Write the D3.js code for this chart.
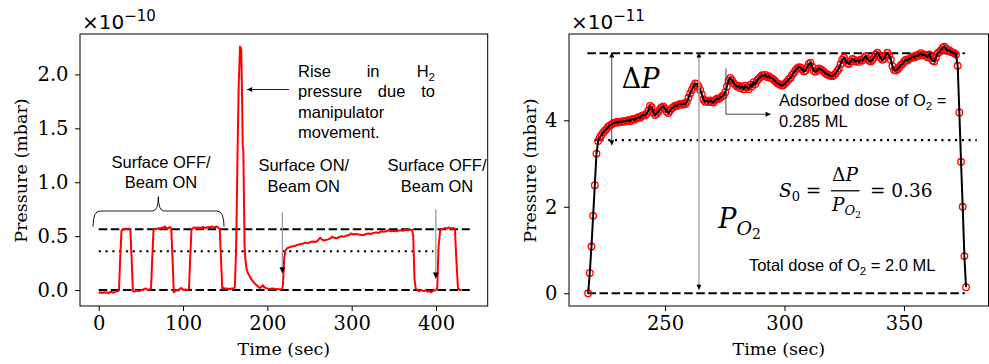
<!DOCTYPE html>
<html><head><meta charset="utf-8">
<script src="https://cdn.jsdelivr.net/npm/d3@7"></script>
<style>body{margin:0;background:#fff}svg{display:block}</style>
</head><body>
<svg id="c" width="989" height="364"></svg>
<script>
// ---------------- DATA ----------------
// Left panel: pressure (x1e-10 mbar) vs time (sec)
const leftTime = [0,2,4,6,8,10,12,14,16,18,20,22,24,25.5,27,28.5,30,32,34,36,37.5,39,40.5,42,44,46,48,50,52,54,56,58,60,62,63.5,65,67,69,71,73,75,77,78.5,80,82,84,86,87.5,89,90.5,92,94,96,97.5,99,101,103,105,107,108.5,110,112,114,116,118,120,122,124,126,128,130,132,134,136,138,140,142,143.5,145,146.5,148,150,152,154,156,158,160,161.5,163,164.5,166,167.6,169,170,170.8,171.5,172,173,174,175.5,177.5,179.5,182,185,188,191,193,194.5,196,198,200,203,206,209,212,215,217.5,218.5,220,221.5,224,227,230,233,236,239,242,245,248,251,254,257,260,262.5,264.5,266.5,269,272,275,277,279,282,285,288,291,294,297,299,302,305,308,311,314,317,320,323,326,329,332,335,338,341,343.5,346,349,352,355,358,361,364,367,369,371.5,373,374.5,376,378,380,382,384,386,388,390,392,394,396,398,400,401.5,403,405,407,409,411,413,415,417,419,421,422.5,424,426,428,430];
const leftPressure = [-0.03,-0.02,-0.03,-0.02,-0.025,-0.02,-0.03,-0.015,-0.02,-0.025,-0.015,-0.01,-0.005,0.3,0.55,0.565,0.56,0.57,0.565,0.57,0.56,0.3,-0.01,-0.015,-0.01,-0.005,-0.01,0.0,0.0,0.01,0.015,0.0,0.005,0.01,0.3,0.56,0.57,0.565,0.575,0.57,0.58,0.575,0.59,0.575,0.57,0.585,0.57,0.3,-0.02,-0.01,0.0,-0.005,0.01,0.02,0.01,0.0,0.005,0.0,0.005,0.3,0.56,0.575,0.58,0.575,0.58,0.575,0.58,0.585,0.575,0.58,0.585,0.58,0.59,0.58,0.585,0.59,0.575,0.57,0.3,0.01,0.02,0.01,0.015,0.01,0.01,0.015,0.01,0.03,0.4,1.2,1.9,2.26,2.23,1.8,1.33,1.3,1.0,0.4,0.28,0.19,0.15,0.12,0.09,0.06,0.04,0.02,0.03,0.045,0.03,0.02,0.015,0.01,0.015,0.01,0.01,0.005,0.01,0.05,0.3,0.37,0.39,0.4,0.405,0.41,0.42,0.425,0.43,0.44,0.435,0.445,0.45,0.445,0.46,0.485,0.47,0.46,0.465,0.47,0.48,0.495,0.485,0.48,0.49,0.5,0.495,0.505,0.51,0.525,0.515,0.52,0.515,0.51,0.51,0.52,0.525,0.52,0.53,0.535,0.53,0.545,0.54,0.545,0.555,0.545,0.55,0.545,0.55,0.555,0.55,0.56,0.555,0.56,0.56,0.5,0.1,0.01,0.0,-0.01,0.0,-0.005,-0.01,0.0,-0.015,-0.01,-0.02,-0.01,-0.005,0.0,0.02,0.4,0.555,0.565,0.57,0.575,0.57,0.58,0.575,0.57,0.575,0.56,0.3,0.02,0.0,0.0];
const leftLevels = [0.563, 0.0];     // dashed reference levels
const leftMidLevel = [0.36];         // dotted level
const leftXTicks = [0,100,200,300,400];
const leftYTicks = [0.0,0.5,1.0,1.5,2.0];

// Right panel: pressure (x1e-11 mbar), sampled every 0.7 s from t = 217.8 s
const rightStart = 217.8, rightStep = 0.7;
const rightPressure = [0.0,0.47,1.08,1.79,2.5,3.23,3.52,3.6,3.66,3.72,
3.76,3.8,3.85,3.88,3.9,3.93,3.94,3.96,3.95,3.97,
3.96,3.98,3.97,3.99,4.0,3.98,4.02,4.03,4.01,4.05,
4.07,4.06,4.1,4.12,4.11,4.15,4.22,4.33,4.3,4.18,
4.12,4.15,4.2,4.26,4.3,4.32,4.27,4.2,4.17,4.22,
4.28,4.3,4.34,4.33,4.36,4.38,4.36,4.39,4.37,4.42,
4.52,4.62,4.7,4.78,4.85,4.84,4.78,4.7,4.6,4.48,
4.43,4.45,4.42,4.46,4.43,4.41,4.47,4.5,4.49,4.52,
4.55,4.58,4.65,4.78,4.92,4.98,4.93,4.86,4.82,4.78,
4.8,4.74,4.78,4.72,4.8,4.76,4.72,4.82,4.78,4.88,
4.84,4.92,4.96,5.0,5.04,5.03,5.05,5.0,5.02,4.98,
4.97,4.94,4.9,4.86,4.84,4.82,4.8,4.82,4.86,4.9,
4.95,4.98,5.05,5.1,5.16,5.2,5.23,5.22,5.18,5.13,
5.15,5.22,5.3,5.33,5.24,5.14,5.12,5.16,5.2,5.18,
5.16,5.12,5.08,5.06,5.04,5.03,5.02,5.04,5.08,5.14,
5.2,5.3,5.4,5.45,5.38,5.32,5.3,5.36,5.42,5.4,
5.36,5.38,5.35,5.4,5.38,5.44,5.48,5.42,5.38,5.36,
5.4,5.46,5.52,5.56,5.5,5.44,5.4,5.42,5.5,5.56,
5.5,5.4,5.25,5.16,5.15,5.18,5.22,5.28,5.3,5.36,
5.4,5.38,5.42,5.44,5.47,5.45,5.5,5.48,5.53,5.55,
5.5,5.52,5.49,5.46,5.52,5.44,5.38,5.36,5.45,5.55,
5.58,5.62,5.68,5.7,5.66,5.6,5.62,5.58,5.57,5.55,
5.52,5.26,4.18,3.04,2.0,0.86,0.14];
const rightLevels = [5.55, 0.0];
const rightMidLevel = [3.54];
const rightXTicks = [250,300,350];
const rightYTicks = [0,2,4];

// ---------------- DRAW ----------------
const svg = d3.select('#c');
const SERIF = "'DejaVu Serif', serif", SANS = "'Liberation Sans', Arial, sans-serif", DSANS = "'DejaVu Sans', sans-serif";
const defs = svg.append('defs');
function marker(id, w, h){
  defs.append('marker').attr('id',id).attr('viewBox','0 0 10 10').attr('refX',10).attr('refY',5)
    .attr('markerWidth',w).attr('markerHeight',h).attr('markerUnits','userSpaceOnUse')
    .attr('orient','auto-start-reverse')
    .append('path').attr('d','M0,0L10,5L0,10z').attr('fill','#000');
}
marker('ah',7,6); marker('ahs',7,5);

const xL = d3.scaleLinear().domain([-22.2, 461.3]).range([80, 487.7]);
const yL = d3.scaleLinear().domain([-0.148, 2.375]).range([306, 34]);
const xR = d3.scaleLinear().domain([209.8, 385.4]).range([569, 988.5]);
const yR = d3.scaleLinear().domain([-0.294, 5.995]).range([306, 34]);

function axes(x, y, xt, yt, fx, fy, ylabX, offsetTxt){
  const g = svg.append('g');
  const [x0,x1] = x.range(), [y0,y1] = y.range();
  g.append('g').attr('transform',`translate(0,${y0})`)
    .call(d3.axisBottom(x).tickValues(xt).tickSize(5).tickPadding(5.5).tickFormat(fx))
    .call(s=>{s.select('.domain').remove();
      s.selectAll('line').attr('stroke','#000');
      s.selectAll('text').attr('font-family',SERIF).attr('font-size',19.5).attr('fill','#000');});
  g.append('g').attr('transform',`translate(${x0},0)`)
    .call(d3.axisLeft(y).tickValues(yt).tickSize(5).tickPadding(6.5).tickFormat(fy))
    .call(s=>{s.select('.domain').remove();
      s.selectAll('line').attr('stroke','#000');
      s.selectAll('text').attr('font-family',SERIF).attr('font-size',19.5).attr('fill','#000');});
  g.append('rect').attr('x',x0).attr('y',y1).attr('width',x1-x0).attr('height',y0-y1)
    .attr('fill','none').attr('stroke','#000').attr('stroke-width',1);
  g.append('text').attr('x',(x0+x1)/2).attr('y',355).attr('text-anchor','middle')
    .attr('font-family',SERIF).attr('font-size',17.5).text('Time (sec)');
  g.append('text').attr('transform',`translate(${ylabX},170.5) rotate(-90)`).attr('text-anchor','middle')
    .attr('font-family',SERIF).attr('font-size',17.5).text('Pressure (mbar)');
  const o = g.append('text').attr('x',x0+2).attr('y',28.5).attr('font-family',DSANS).attr('font-size',20);
  o.append('tspan').text('×10');
  o.append('tspan').attr('dy',-7.5).attr('font-size',15).text(offsetTxt);
  return g;
}

function hline(x, y, v, a, b, dash, w){
  svg.append('line').attr('x1',x(a)).attr('x2',x(b)).attr('y1',y(v)).attr('y2',y(v))
    .attr('stroke','#000').attr('stroke-width',w).attr('stroke-dasharray',dash);
}

// ----- Left panel -----
axes(xL, yL, leftXTicks, leftYTicks, d3.format('d'), d3.format('.1f'), 27, '−10');
leftLevels.forEach(v=>hline(xL,yL,v,0,440,'8.5,3.6',2));
leftMidLevel.forEach(v=>hline(xL,yL,v,0,397,'2.2,4.6',2.2));

const leftData = leftTime.map((t,i)=>[t,leftPressure[i]]);
svg.append('path').datum(leftData)
  .attr('d',d3.line().x(d=>xL(d[0])).y(d=>yL(d[1])))
  .attr('fill','none').attr('stroke','#ff0000').attr('stroke-width',2).attr('stroke-linejoin','round');

// brace over first three pulses
{
  const a=xL(-6.8), b=xL(148.6), m=xL(70.7), y0=yL(0.587), y1=yL(0.733), yt=yL(0.866);
  svg.append('path').attr('d',`M${a},${y0} Q${a},${y1} ${a+7},${y1} L${m-6},${y1} Q${m},${y1} ${m},${yt} Q${m},${y1} ${m+6},${y1} L${b-7},${y1} Q${b},${y1} ${b},${y0}`)
    .attr('fill','none').attr('stroke','#000').attr('stroke-width',0.9);
}
// labels
function ctext(x,lines,anchor,size){
  lines.forEach(l=>svg.append('text').attr('x',x).attr('y',l[1]).attr('text-anchor',anchor)
    .attr('font-family',SANS).attr('font-size',size).text(l[0]));
}
ctext(xL(73.9),[['Surface OFF/',yL(1.129)],['Beam ON',yL(0.944)]],'middle',16.5);
ctext(xL(243.2),[['Surface ON/',yL(1.104)],['Beam ON',yL(0.912)]],'middle',16.5);
ctext(xL(401.2),[['Surface OFF/',yL(1.104)],['Beam ON',yL(0.912)]],'middle',16.5);
// surface arrows
[[217.8,0.72,0.155],[399.8,0.75,0.108]].forEach(a=>{
  svg.append('line').attr('x1',xL(a[0])).attr('x2',xL(a[0])).attr('y1',yL(a[1])).attr('y2',yL(a[2]))
    .attr('stroke','#999').attr('stroke-width',1.3).attr('marker-end','url(#ah)');
});
// Rise text (justified)
{
  const lx=xL(236.3), rx=xL(398.8);
  const T=(x,y,s,anchor)=>svg.append('text').attr('x',x).attr('y',y).attr('text-anchor',anchor||'start')
      .attr('font-family',SANS).attr('font-size',16.5).text(s);
  T(lx,yL(1.979),'Rise');
  T(xL(317.8),yL(1.979),'in');
  const h=svg.append('text').attr('x',rx).attr('y',yL(1.979)).attr('text-anchor','end').attr('font-family',SANS).attr('font-size',16.5);
  h.append('tspan').text('H'); h.append('tspan').attr('dy',4).attr('font-size',11.5).text('2');
  T(lx,yL(1.794),'pressure');
  T(xL(331),yL(1.794),'due');
  T(rx,yL(1.794),'to','end');
  T(lx,yL(1.593),'manipulator');
  T(lx,yL(1.413),'movement.');
  svg.append('line').attr('x1',xL(225.7)).attr('x2',xL(176)).attr('y1',yL(1.86)).attr('y2',yL(1.86))
    .attr('stroke','#000').attr('stroke-width',0.9).attr('marker-end','url(#ahs)');
}

// ----- Right panel -----
axes(xR, yR, rightXTicks, rightYTicks, d3.format('d'), d3.format('d'), 536, '−11');
rightLevels.forEach(v=>hline(xR,yR,v,217.5,375.5,'8.5,3.6',2));
rightMidLevel.forEach(v=>hline(xR,yR,v,220.5,380.5,'2.2,4.6',2.2));

const rightData = rightPressure.map((v,i)=>[rightStart+i*rightStep, v]);
svg.append('g').selectAll('circle').data(rightData).join('circle')
  .attr('cx',d=>xR(d[0])).attr('cy',d=>yR(d[1])).attr('r',3.3)
  .attr('fill','none').attr('stroke','#ff0000').attr('stroke-width',1.3);
svg.append('path').datum(rightData)
  .attr('d',d3.line().x(d=>xR(d[0])).y(d=>yR(d[1])))
  .attr('fill','none').attr('stroke','#000').attr('stroke-width',2).attr('stroke-linejoin','round');

// ΔP arrow
svg.append('line').attr('x1',xR(227.7)).attr('x2',xR(227.7)).attr('y1',yR(5.57)).attr('y2',yR(3.42))
  .attr('stroke','#444').attr('stroke-width',1).attr('marker-start','url(#ahs)').attr('marker-end','url(#ahs)');
// P_O2 arrow
svg.append('line').attr('x1',xR(264.2)).attr('x2',xR(264.2)).attr('y1',yR(5.57)).attr('y2',yR(0.08))
  .attr('stroke','#aaa').attr('stroke-width',1.5).attr('marker-start','url(#ahs)').attr('marker-end','url(#ahs)');
// adsorbed arrow
svg.append('path').attr('d',`M${xR(275.5)},${yR(5.2)} L${xR(275.5)},${yR(4.14)} L${xR(294.2)},${yR(4.14)}`)
  .attr('fill','none').attr('stroke','#333').attr('stroke-width',0.9).attr('marker-end','url(#ahs)');

// ΔP big label
{
  const t=svg.append('text').attr('x',xR(231.9)).attr('y',yR(4.74)).attr('font-family',SERIF).attr('font-size',27);
  t.append('tspan').text('Δ'); t.append('tspan').attr('font-style','italic').text('P');
}
// P_O2 big label
{
  const t=svg.append('text').attr('x',xR(272.3)).attr('y',yR(1.5)).attr('font-family',SERIF).attr('font-size',27).attr('font-style','italic');
  t.append('tspan').text('P');
  t.append('tspan').attr('dy',7).attr('font-size',19).text('O');
  t.append('tspan').attr('dy',4).attr('font-size',14).attr('font-style','normal').text('2');
}
// Adsorbed dose text
{
  const ax=xR(297.7);
  const t=svg.append('text').attr('x',ax).attr('y',yR(4.32)).attr('font-family',SANS).attr('font-size',16.5);
  t.append('tspan').text('Adsorbed dose of O');
  t.append('tspan').attr('dy',4).attr('font-size',11.5).text('2');
  t.append('tspan').attr('dy',-4).text(' =');
  svg.append('text').attr('x',ax).attr('y',yR(3.85)).attr('font-family',SANS).attr('font-size',16.5).text('0.285 ML');
}
// Total dose text
{
  const t=svg.append('text').attr('x',xR(285.1)).attr('y',yR(0.52)).attr('font-family',SANS).attr('font-size',16.5);
  t.append('tspan').text('Total dose of O');
  t.append('tspan').attr('dy',4).attr('font-size',11.5).text('2');
  t.append('tspan').attr('dy',-4).text(' = 2.0 ML');
}
// S0 equation
{
  const ex=xR(297.7), ey=yR(2.22);
  const s=svg.append('text').attr('x',ex).attr('y',ey).attr('font-family',SERIF).attr('font-size',18.5);
  s.append('tspan').attr('font-style','italic').text('S');
  s.append('tspan').attr('dy',4).attr('font-size',13).text('0');
  s.append('tspan').attr('dy',-4).text(' = ');
  svg.append('line').attr('x1',ex+52).attr('x2',ex+80.5).attr('y1',ey-6.5).attr('y2',ey-6.5).attr('stroke','#000').attr('stroke-width',1.3);
  const n=svg.append('text').attr('x',ex+66).attr('y',ey-16.5).attr('text-anchor','middle').attr('font-family',SERIF).attr('font-size',18.5);
  n.append('tspan').text('Δ'); n.append('tspan').attr('font-style','italic').text('P');
  const d=svg.append('text').attr('x',ex+53).attr('y',ey+13.5).attr('font-family',SERIF).attr('font-size',18.5).attr('font-style','italic');
  d.append('tspan').text('P');
  d.append('tspan').attr('dy',4.5).attr('font-size',13).text('O');
  d.append('tspan').attr('dy',3).attr('font-size',9.5).attr('font-style','normal').text('2');
  svg.append('text').attr('x',ex+91).attr('y',ey).attr('font-family',SERIF).attr('font-size',18.5).text('= 0.36');
}
</script>
</body></html>
